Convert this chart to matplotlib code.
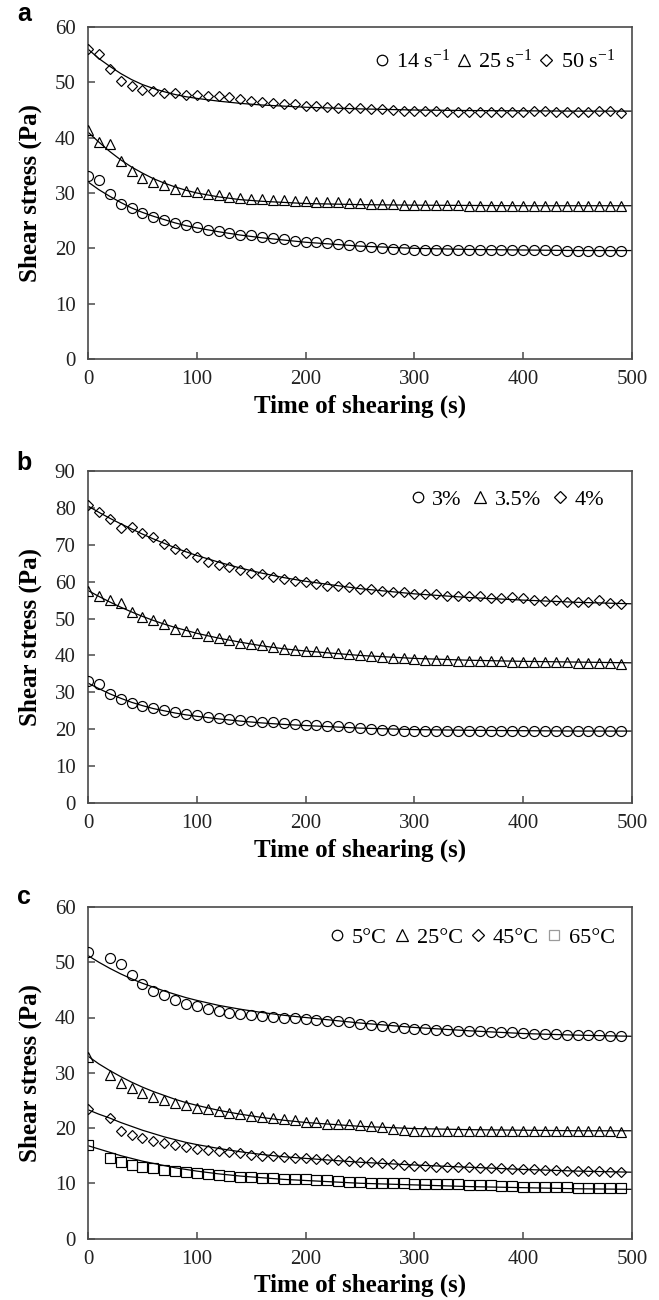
import numpy as np
import matplotlib
matplotlib.use("Agg")
import matplotlib.pyplot as plt
from matplotlib.lines import Line2D

plt.rcParams['font.family'] = ['Liberation Serif', 'DejaVu Serif']
plt.rcParams['mathtext.fontset'] = 'custom'
plt.rcParams['mathtext.rm'] = 'Liberation Serif'
plt.rcParams['mathtext.it'] = 'Liberation Serif:italic'
plt.rcParams['mathtext.bf'] = 'Liberation Serif:bold'

# ---------------- data ----------------
t_ab = np.arange(0, 500, 10)                 # sampling times, panels a and b
t_c = np.array([0] + list(range(20, 500, 10)))  # sampling times, panel c
t_fit = [0, 10, 20, 30, 40, 50, 60, 70, 80, 90, 100, 120, 140, 160, 180, 200,
         250, 300, 350, 400, 450, 500]

# Panel a: shear rate
a_labels = ['14 s$^{-1}$', '25 s$^{-1}$', '50 s$^{-1}$']
a_14 = [33.1, 32.3, 29.8, 28.1, 27.2, 26.3, 25.7, 25.1, 24.6, 24.2, 23.8, 23.4, 23.1,
        22.8, 22.5, 22.4, 22.1, 21.8, 21.6, 21.3, 21.2, 21.1, 20.9,
        20.8, 20.6, 20.4, 20.2, 20.1, 19.9, 19.8, 19.7, 19.7, 19.7, 19.7, 19.7, 19.7,
        19.7, 19.7, 19.7, 19.7, 19.7, 19.7, 19.7, 19.7, 19.6, 19.6, 19.6, 19.6, 19.6, 19.5]
a_25 = [41.4, 39.3, 38.9, 35.7, 33.9, 32.8, 31.9, 31.4, 30.8, 30.4, 30.1, 29.8, 29.6,
        29.3, 29.1, 29.0, 28.9, 28.8, 28.7, 28.6, 28.5, 28.4, 28.4,
        28.3, 28.2, 28.2, 28.1, 28.0, 28.0, 27.9, 27.9, 27.8, 27.8, 27.8, 27.8, 27.7,
        27.7, 27.7, 27.7, 27.6, 27.6, 27.6, 27.6, 27.6, 27.6, 27.6, 27.6, 27.6, 27.6, 27.6]
a_50 = [56.0, 55.2, 52.4, 50.3, 49.4, 48.7, 48.4, 48.1, 48.1, 47.8, 47.7, 47.6, 47.5,
        47.3, 47.0, 46.7, 46.5, 46.3, 46.1, 46.0, 45.8, 45.7, 45.5,
        45.4, 45.4, 45.3, 45.2, 45.1, 45.0, 44.9, 44.8, 44.8, 44.8, 44.6, 44.6, 44.6,
        44.6, 44.6, 44.6, 44.6, 44.7, 44.8, 44.8, 44.6, 44.6, 44.7, 44.7, 44.8, 44.8, 44.5]
a_fit_14 = [32.0, 30.6, 29.4, 28.3, 27.3, 26.5, 25.8, 25.2, 24.6, 24.1, 23.7, 23.0, 22.4,
            21.9, 21.5, 21.1, 20.4, 20.0, 19.8, 19.7, 19.6, 19.6]
a_fit_25 = [41.0, 39.2, 37.5, 36.0, 34.7, 33.6, 32.6, 31.8, 31.1, 30.5, 30.0, 29.3, 28.8,
            28.5, 28.3, 28.1, 27.9, 27.8, 27.75, 27.7, 27.7, 27.7]
a_fit_50 = [56.0, 54.3, 52.9, 51.6, 50.5, 49.6, 48.9, 48.3, 47.8, 47.4, 47.1, 46.6, 46.2,
            45.9, 45.7, 45.5, 45.2, 45.0, 44.9, 44.85, 44.8, 44.8]

# Panel b: concentration
b_labels = ['3%', '3.5%', '4%']
b_3 = [33.1, 32.3, 29.6, 28.2, 27.1, 26.3, 25.7, 25.1, 24.7, 24.2, 23.8, 23.4, 23.1,
       22.8, 22.5, 22.2, 22.0, 21.9, 21.7, 21.4, 21.2, 21.1, 20.9,
       20.8, 20.5, 20.3, 20.1, 19.9, 19.7, 19.6, 19.6, 19.6, 19.6, 19.6, 19.6, 19.6,
       19.6, 19.6, 19.6, 19.6, 19.6, 19.6, 19.6, 19.6, 19.6, 19.6, 19.6, 19.6, 19.6, 19.5]
b_35 = [57.6, 56.1, 54.9, 54.1, 51.9, 50.5, 49.5, 48.4, 47.3, 46.6, 46.0, 45.4, 44.6,
        44.1, 43.5, 43.0, 42.7, 42.3, 41.8, 41.6, 41.3, 41.1, 40.8,
        40.7, 40.5, 40.2, 39.9, 39.6, 39.4, 39.2, 39.0, 38.9, 38.8, 38.7, 38.6, 38.5,
        38.5, 38.4, 38.4, 38.3, 38.3, 38.2, 38.2, 38.1, 38.1, 38.0, 38.0, 38.0, 37.9, 37.8]
b_4 = [80.7, 78.9, 77.1, 74.6, 74.8, 73.2, 72.0, 70.3, 68.9, 67.8, 66.7, 65.4, 64.4,
       64.0, 63.1, 62.3, 62.0, 61.2, 60.7, 60.1, 59.9, 59.5, 58.8,
       58.8, 58.5, 58.1, 57.9, 57.6, 57.3, 57.1, 56.7, 56.7, 56.6, 56.1, 56.0, 56.1,
       56.0, 55.6, 55.5, 55.9, 55.5, 54.9, 54.8, 54.9, 54.6, 54.6, 54.6, 54.9, 54.3, 54.0]
b_fit_3 = [32.5, 31.0, 29.6, 28.4, 27.3, 26.4, 25.6, 25.0, 24.4, 23.9, 23.5, 22.8, 22.2,
           21.7, 21.3, 21.0, 20.3, 19.9, 19.7, 19.6, 19.5, 19.5]
b_fit_35 = [57.6, 56.0, 54.5, 53.1, 51.8, 50.6, 49.5, 48.5, 47.6, 46.8, 46.0, 44.7, 43.6,
            42.6, 41.8, 41.2, 40.0, 39.2, 38.7, 38.4, 38.2, 38.0]
b_fit_4 = [80.5, 78.8, 77.2, 75.7, 74.3, 72.9, 71.6, 70.4, 69.2, 68.1, 67.1, 65.3, 63.7,
           62.3, 61.1, 60.1, 58.1, 56.7, 55.7, 55.0, 54.4, 54.0]

# Panel c: temperature
c_labels = ['5°C', '25°C', '45°C', '65°C']
c_5 = [51.8, 50.7, 49.7, 47.7, 46.0, 44.8, 44.0, 43.1, 42.5, 42.0, 41.5, 41.1, 40.8,
       40.6, 40.4, 40.2, 40.1, 40.0, 39.9, 39.7, 39.5, 39.3,
       39.3, 39.2, 38.9, 38.7, 38.5, 38.3, 38.1, 38.0, 37.9, 37.8, 37.8, 37.6, 37.5,
       37.5, 37.4, 37.3, 37.3, 37.2, 37.1, 37.1, 37.0, 36.9, 36.9, 36.8, 36.8, 36.7, 36.7]
c_25 = [32.9, 29.6, 28.1, 27.2, 26.3, 25.6, 25.0, 24.6, 24.1, 23.7, 23.4, 23.1, 22.7,
        22.5, 22.2, 22.0, 21.8, 21.6, 21.4, 21.1, 21.0, 20.8,
        20.8, 20.7, 20.5, 20.3, 20.1, 19.9, 19.7, 19.5, 19.5, 19.5, 19.5, 19.5, 19.5,
        19.5, 19.5, 19.5, 19.5, 19.5, 19.5, 19.5, 19.5, 19.5, 19.5, 19.5, 19.5, 19.5, 19.3]
c_45 = [23.4, 21.8, 19.5, 18.7, 18.1, 17.6, 17.3, 16.9, 16.5, 16.2, 16.0, 15.8, 15.6,
        15.4, 15.2, 15.0, 14.9, 14.7, 14.6, 14.5, 14.4, 14.3,
        14.2, 14.1, 13.9, 13.8, 13.7, 13.5, 13.3, 13.2, 13.1, 13.0, 13.0, 12.9, 12.9,
        12.8, 12.75, 12.7, 12.6, 12.5, 12.5, 12.4, 12.4, 12.3, 12.3, 12.2, 12.2, 12.1, 12.1]
c_65 = [16.9, 14.5, 13.8, 13.3, 13.0, 12.7, 12.4, 12.2, 12.0, 11.8, 11.6, 11.5, 11.3,
        11.2, 11.1, 11.0, 10.9, 10.8, 10.7, 10.7, 10.6, 10.6,
        10.4, 10.3, 10.2, 10.1, 10.1, 10.0, 10.0, 9.9, 9.9, 9.8, 9.8, 9.8, 9.7,
        9.7, 9.6, 9.5, 9.5, 9.4, 9.4, 9.3, 9.3, 9.3, 9.2, 9.2, 9.2, 9.1, 9.1]
c_fit_5 = [51.2, 50.0, 48.9, 47.9, 47.0, 46.2, 45.5, 44.8, 44.2, 43.6, 43.1, 42.2, 41.5,
           40.9, 40.4, 40.0, 39.0, 38.2, 37.6, 37.1, 36.8, 36.6]
c_fit_25 = [33.0, 31.6, 30.4, 29.3, 28.3, 27.4, 26.6, 25.9, 25.2, 24.6, 24.1, 23.2, 22.5,
            21.9, 21.4, 21.0, 20.3, 19.9, 19.7, 19.6, 19.5, 19.5]
c_fit_45 = [23.3, 22.5, 21.8, 21.0, 20.3, 19.6, 19.0, 18.4, 17.9, 17.4, 17.0, 16.3, 15.7,
            15.2, 14.8, 14.5, 13.8, 13.3, 12.9, 12.5, 12.2, 12.0]
c_fit_65 = [16.8, 16.2, 15.6, 15.0, 14.5, 14.0, 13.6, 13.2, 12.8, 12.5, 12.2, 11.7, 11.3,
            11.0, 10.7, 10.5, 10.0, 9.7, 9.4, 9.2, 9.0, 8.9]

# ---------------- styling ----------------
MK = {'o': 7.2, '^': 7.6, 'D': 5.5, 's': 6.6}
SPINE = '#4a4a4a'
W, H = 659, 1300
fig = plt.figure(figsize=(W / 100, H / 100), dpi=100)


def px_axes(left, top, right, bottom):
    return fig.add_axes([left / W, 1 - bottom / H, (right - left) / W, (bottom - top) / H])


def style(ax, ymax, ystep):
    ax.set_xlim(0, 500)
    ax.set_ylim(0, ymax)
    ax.set_xticks(range(0, 501, 100))
    ax.set_yticks(range(0, ymax + 1, ystep))
    for s in ax.spines.values():
        s.set_color(SPINE)
        s.set_linewidth(1.2)
    ax.tick_params(axis='both', direction='in', length=5, width=1.1, color=SPINE,
                   top=False, right=False, labelsize=15, labelcolor='#222222')
    ax.tick_params(axis='x', pad=8)
    ax.tick_params(axis='y', pad=9)
    ax.set_xlabel('Time of shearing (s)', fontsize=18, fontweight='bold')
    ax.set_ylabel('Shear stress (Pa)', fontsize=18, fontweight='bold')
    ax.xaxis.set_label_coords(0.5, -47 / 332)
    ax.xaxis.label.set_va('center')
    ax.yaxis.set_label_coords(-58 / 544, 0.5)
    ax.yaxis.label.set_va('center')


def draw(ax, t, series, fits, markers):
    for y, f, m in zip(series, fits, markers):
        ax.plot(t_fit, f, color='black', lw=0.9, zorder=2)
        ax.plot(t, y, ls='none', marker=m, ms=MK[m], mfc='none', mec='black',
                mew=0.85, zorder=3)


def legend(ax, labels, markers, colors, yc, xr, colsp):
    handles = [Line2D([], [], ls='none', marker=m, ms=MK[m] * 1.05, mfc='none',
                      mec=c, mew=0.9) for m, c in zip(markers, colors)]
    ax.legend(handles, labels, loc='center right', bbox_to_anchor=(xr, yc),
              ncol=len(labels), frameon=False, fontsize=16, handlelength=0.6,
              handletextpad=0.35, columnspacing=colsp, borderpad=0, borderaxespad=0,
              numpoints=1)


# Panel a
ax_a = px_axes(88, 27, 632, 359)
draw(ax_a, t_ab, [a_14, a_25, a_50], [a_fit_14, a_fit_25, a_fit_50], ['o', '^', 'D'])
style(ax_a, 60, 10)
legend(ax_a, a_labels, ['o', '^', 'D'], ['black'] * 3, 1 - 34 / 332, (615 - 88) / 544, 0.3)

# Panel b
ax_b = px_axes(88, 471, 632, 803)
draw(ax_b, t_ab, [b_3, b_35, b_4], [b_fit_3, b_fit_35, b_fit_4], ['o', '^', 'D'])
style(ax_b, 90, 10)
legend(ax_b, b_labels, ['o', '^', 'D'], ['black'] * 3, 1 - 29 / 332, (604 - 88) / 544, 0.55)

# Panel c
ax_c = px_axes(88, 907, 632, 1238.5)
draw(ax_c, t_c, [c_5, c_25, c_45, c_65], [c_fit_5, c_fit_25, c_fit_45, c_fit_65],
     ['o', '^', 'D', 's'])
style(ax_c, 60, 10)
legend(ax_c, c_labels, ['o', '^', 'D', 's'], ['black'] * 3 + ['#9a9a9a'],
       1 - 31 / 332, (615 - 88) / 544, 0.4)

# panel letters
for letter, ypx in [('a', 14), ('b', 463), ('c', 897)]:
    fig.text(24 / W, 1 - ypx / H, letter, fontsize=18, fontweight='bold',
             family=['Liberation Sans', 'DejaVu Sans'], ha='center', va='center')

fig.savefig('out.png', dpi=100)
